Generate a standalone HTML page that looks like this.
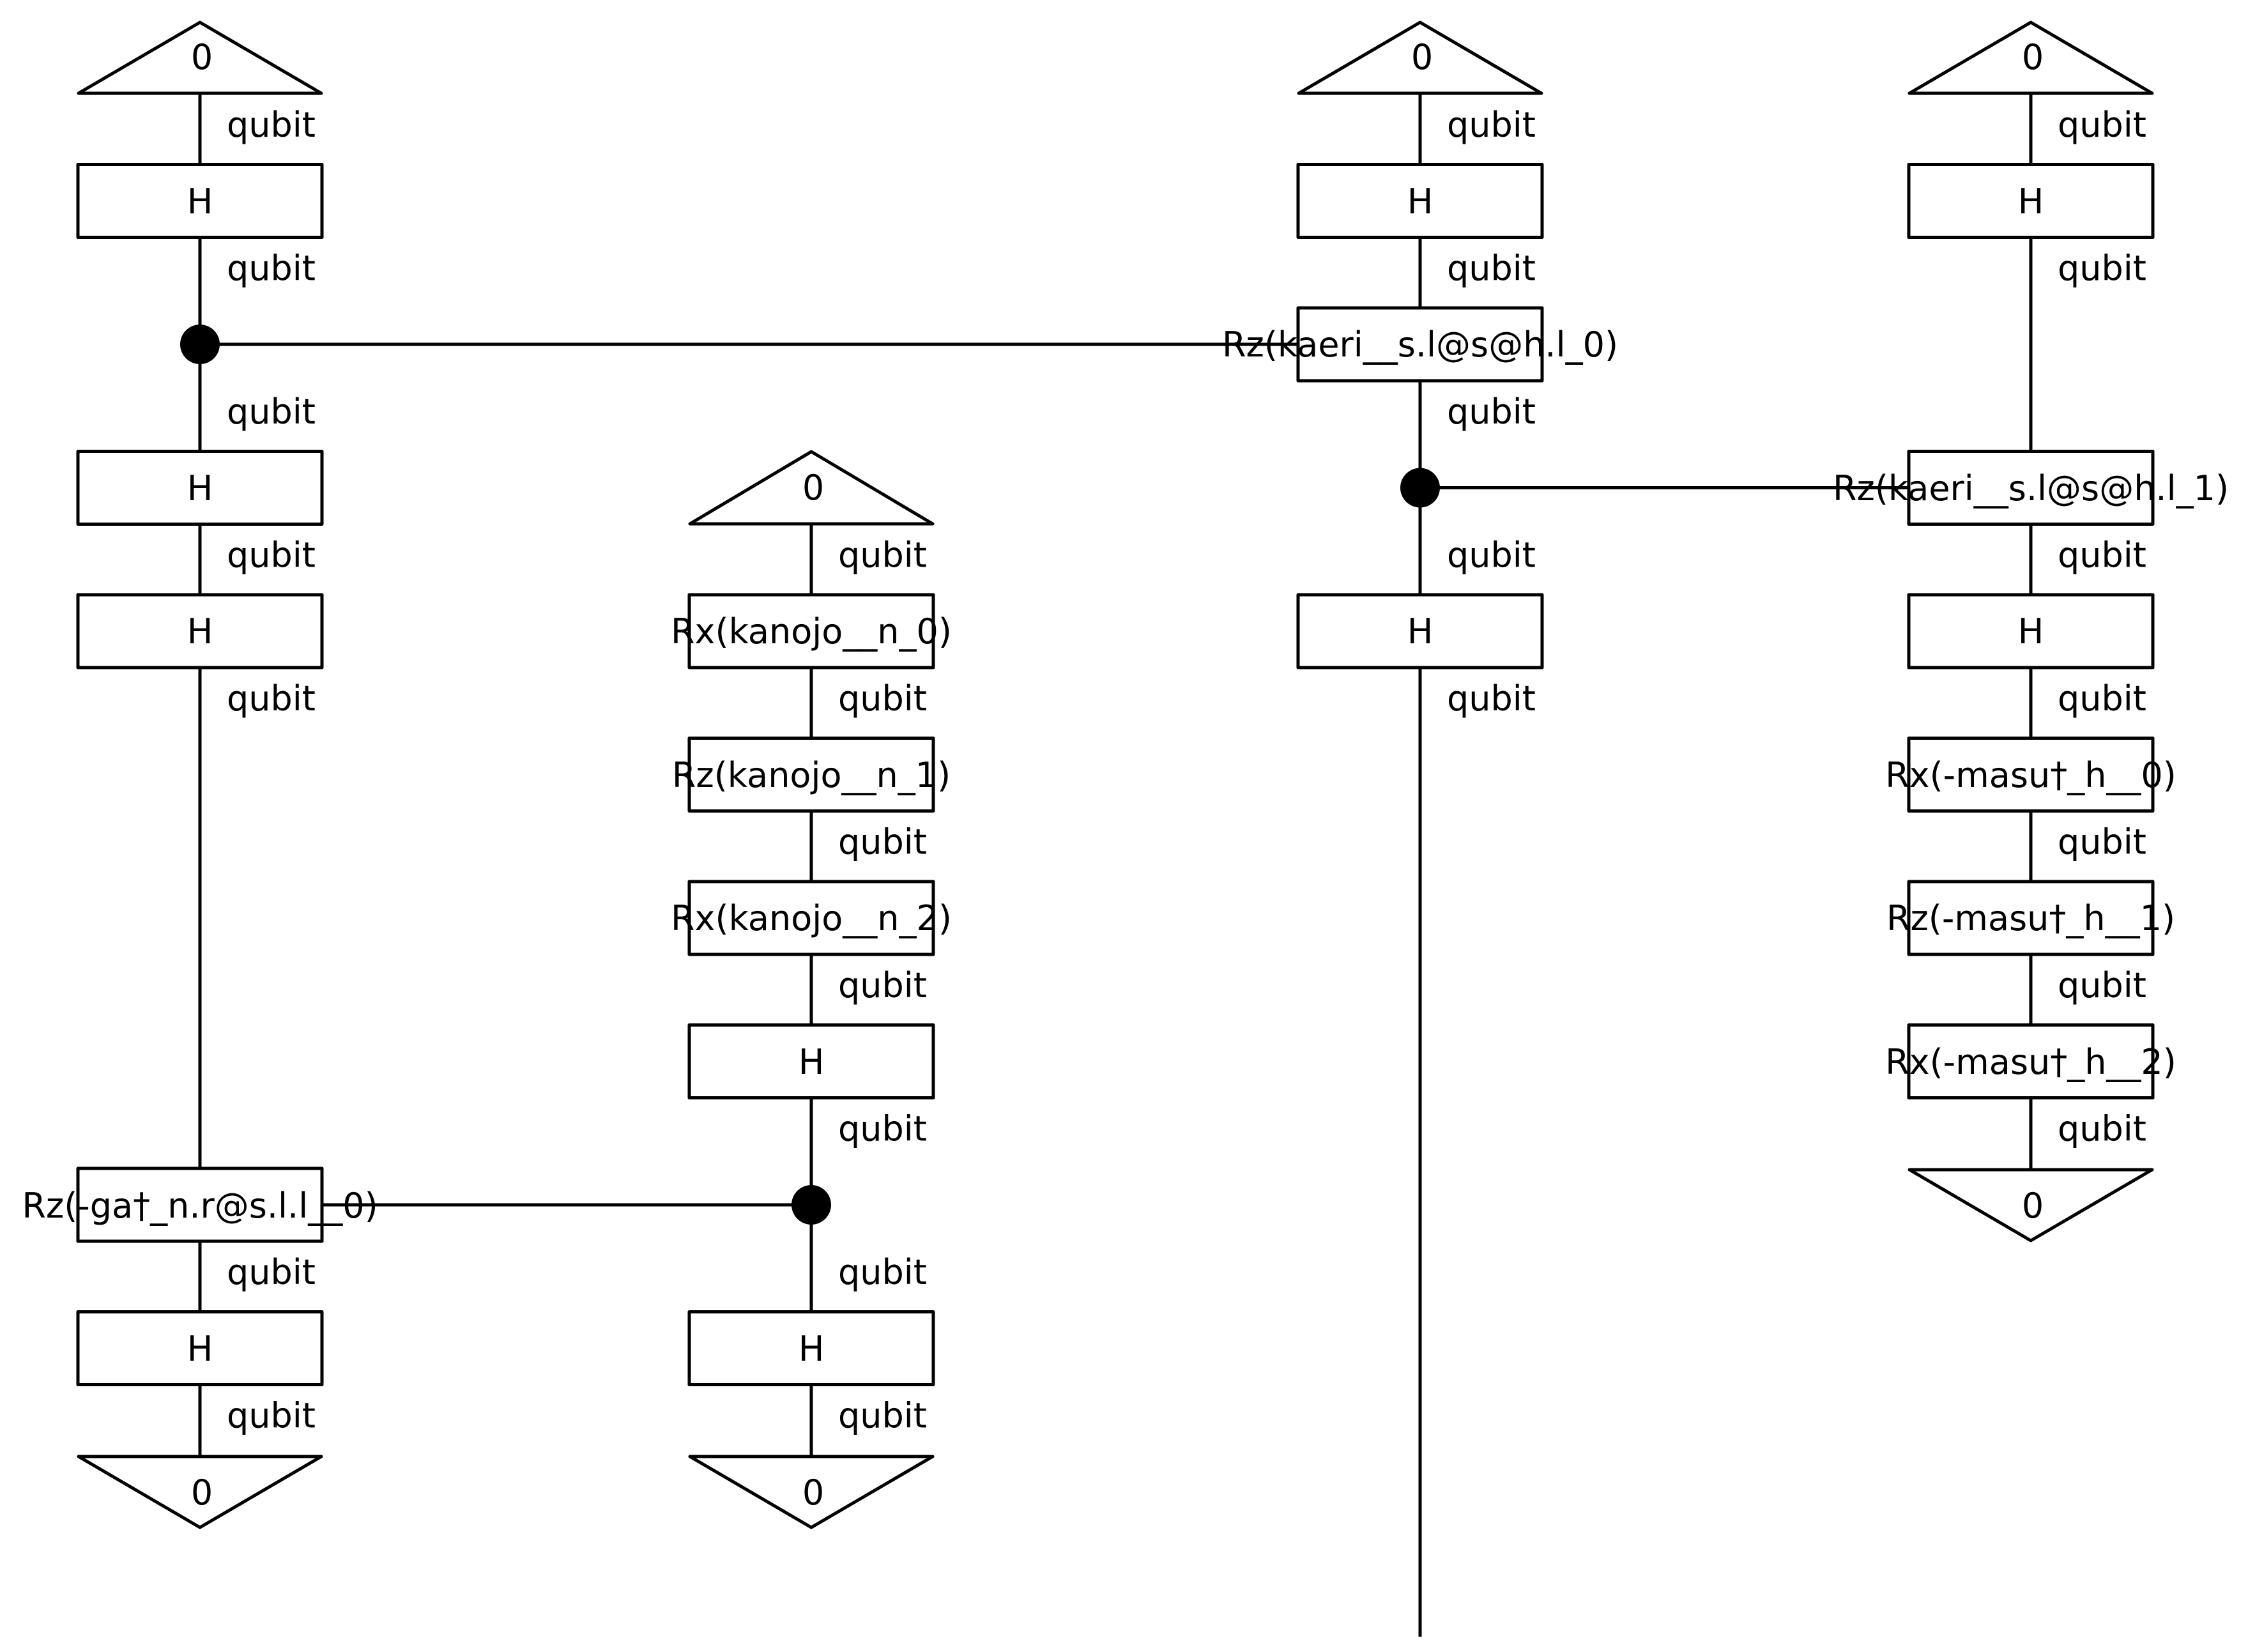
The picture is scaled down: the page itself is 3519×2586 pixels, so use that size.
<!DOCTYPE html>
<html><head><meta charset="utf-8"><style>
html,body{margin:0;padding:0;background:#fff;}
svg{display:block;}
text{font-family:"DejaVu Sans","Liberation Sans",sans-serif;font-size:54px;fill:#000;}
</style></head><body>
<svg width="3519" height="2586" viewBox="0 0 3519 2586" xmlns="http://www.w3.org/2000/svg">
<g stroke="#000" stroke-width="5" fill="none">
<line x1="313" y1="90" x2="313" y2="2335"/>
<line x1="1270" y1="763.5" x2="1270" y2="2335"/>
<line x1="2223" y1="90" x2="2223" y2="2562"/>
<line x1="3179" y1="90" x2="3179" y2="1831"/>
<line x1="313" y1="539" x2="2032" y2="539"/>
<line x1="2223" y1="763.5" x2="2988" y2="763.5"/>
<line x1="504" y1="1886" x2="1270" y2="1886"/>
</g>
<g stroke="#000" stroke-width="5" fill="#fff" stroke-linejoin="round">
<polygon points="313,35 123,146 503,146"/>
<polygon points="1270,707 1080,820 1460,820"/>
<polygon points="2223,35 2033,146 2413,146"/>
<polygon points="3179,35 2989,146 3369,146"/>
<polygon points="313,2391 123,2280 503,2280"/>
<polygon points="1270,2391 1080,2280 1460,2280"/>
<polygon points="3179,1942 2989,1831 3369,1831"/>
<rect x="122" y="257.5" width="382" height="114"/>
<rect x="122" y="706.5" width="382" height="114"/>
<rect x="122" y="931" width="382" height="114"/>
<rect x="122" y="1829" width="382" height="114"/>
<rect x="122" y="2053.5" width="382" height="114"/>
<rect x="1079" y="931" width="382" height="114"/>
<rect x="1079" y="1155.5" width="382" height="114"/>
<rect x="1079" y="1380" width="382" height="114"/>
<rect x="1079" y="1604.5" width="382" height="114"/>
<rect x="1079" y="2053.5" width="382" height="114"/>
<rect x="2032" y="257.5" width="382" height="114"/>
<rect x="2032" y="482" width="382" height="114"/>
<rect x="2032" y="931" width="382" height="114"/>
<rect x="2988" y="257.5" width="382" height="114"/>
<rect x="2988" y="706.5" width="382" height="114"/>
<rect x="2988" y="931" width="382" height="114"/>
<rect x="2988" y="1155.5" width="382" height="114"/>
<rect x="2988" y="1380" width="382" height="114"/>
<rect x="2988" y="1604.5" width="382" height="114"/>
</g>
<g fill="#000">
<circle cx="313" cy="539" r="31"/>
<circle cx="2223" cy="763.5" r="31"/>
<circle cx="1270" cy="1886" r="31"/>
</g>
<g text-anchor="middle">
<text x="316" y="108">0</text>
<text x="1273" y="782">0</text>
<text x="2226" y="108">0</text>
<text x="3182" y="108">0</text>
<text x="316" y="2355">0</text>
<text x="1273" y="2355">0</text>
<text x="3182" y="1906">0</text>
<text x="313" y="334">H</text>
<text x="313" y="783">H</text>
<text x="313" y="1007">H</text>
<text x="313" y="1906">Rz(-ga†_n.r@s.l.l__0)</text>
<text x="313" y="2130">H</text>
<text x="1270" y="1007">Rx(kanojo__n_0)</text>
<text x="1270" y="1232">Rz(kanojo__n_1)</text>
<text x="1270" y="1456">Rx(kanojo__n_2)</text>
<text x="1270" y="1681">H</text>
<text x="1270" y="2130">H</text>
<text x="2223" y="334">H</text>
<text x="2223" y="558">Rz(kaeri__s.l@s@h.l_0)</text>
<text x="2223" y="1007">H</text>
<text x="3179" y="334">H</text>
<text x="3179" y="783">Rz(kaeri__s.l@s@h.l_1)</text>
<text x="3179" y="1007">H</text>
<text x="3179" y="1232">Rx(-masu†_h__0)</text>
<text x="3179" y="1456">Rz(-masu†_h__1)</text>
<text x="3179" y="1681">Rx(-masu†_h__2)</text>
</g>
<g>
<text x="355" y="214">qubit</text>
<text x="355" y="438.5">qubit</text>
<text x="355" y="663">qubit</text>
<text x="355" y="887.5">qubit</text>
<text x="355" y="1112">qubit</text>
<text x="355" y="2010">qubit</text>
<text x="355" y="2234.5">qubit</text>
<text x="1312" y="887.5">qubit</text>
<text x="1312" y="1112">qubit</text>
<text x="1312" y="1336.5">qubit</text>
<text x="1312" y="1561">qubit</text>
<text x="1312" y="1785.5">qubit</text>
<text x="1312" y="2010">qubit</text>
<text x="1312" y="2234.5">qubit</text>
<text x="2265" y="214">qubit</text>
<text x="2265" y="438.5">qubit</text>
<text x="2265" y="663">qubit</text>
<text x="2265" y="887.5">qubit</text>
<text x="2265" y="1112">qubit</text>
<text x="3221" y="214">qubit</text>
<text x="3221" y="438.5">qubit</text>
<text x="3221" y="887.5">qubit</text>
<text x="3221" y="1112">qubit</text>
<text x="3221" y="1336.5">qubit</text>
<text x="3221" y="1561">qubit</text>
<text x="3221" y="1785.5">qubit</text>
</g>
</svg>
</body></html>
